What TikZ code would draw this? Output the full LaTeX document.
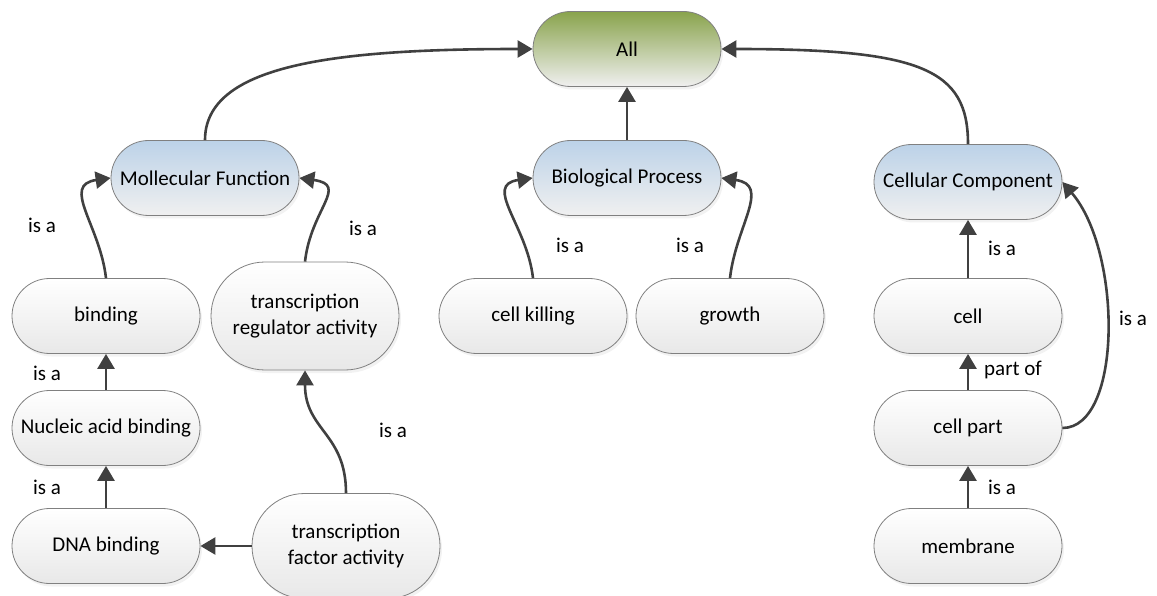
\documentclass[tikz,border=0pt]{standalone}
\usepackage{fontspec}
\setmainfont{Carlito}
\usepackage{tikz}
\usetikzlibrary{arrows.meta,shapes.misc,shadows,positioning}

\definecolor{edgegray}{RGB}{64,64,64}
\definecolor{rimgray}{RGB}{128,128,128}
\definecolor{olivetop}{RGB}{137,163,76}
\definecolor{bluetop}{RGB}{188,210,232}
\definecolor{palebottom}{RGB}{240,240,240}

\tikzset{
    box/.style={rounded rectangle, draw=rimgray, line width=0.8pt,
        minimum width=188pt, minimum height=75pt, inner sep=0pt,
        top color=white, bottom color=black!9, align=center,
        font=\fontsize{21}{25.5}\selectfont,
        drop shadow={shadow xshift=2pt, shadow yshift=-3pt, fill=black!10}},
    rootbox/.style={box, top color=olivetop, bottom color=palebottom},
    catbox/.style={box, top color=bluetop, bottom color=palebottom},
    link/.style={draw=edgegray, line width=2.6pt,
        -{Triangle[length=15pt,width=17pt]}},
    lbl/.style={font=\fontsize{21}{25}\selectfont, inner sep=1pt}
}

\begin{document}
\begin{tikzpicture}[x=1pt,y=1pt]
    \useasboundingbox (0,0) rectangle (1157,-596);

    % top of the tree
    \node[rootbox] (all) at (627,-49) {All};
    \node[catbox] (mf) at (205,-178) {Mollecular Function};
    \node[catbox] (bp) at (627,-178) {Biological Process};
    \node[catbox] (cc) at (968,-182) {Cellular Component};

    % molecular function branch
    \node[box] (bind) at (106,-316) {binding};
    \node[box, minimum height=108pt] (treg) at (305,-316) {transcription\\regulator activity};
    \node[box] (nab) at (106,-428) {Nucleic acid binding};
    \node[box] (dna) at (106,-546) {DNA binding};
    \node[box, minimum height=105pt] (tfa) at (346,-546) {transcription\\factor activity};

    % biological process branch
    \node[box] (kill) at (533,-316) {cell killing};
    \node[box] (grow) at (730,-316) {growth};

    % cellular component branch
    \node[box] (cell) at (968,-316) {cell};
    \node[box] (cpart) at (968,-428) {cell part};
    \node[box] (mem) at (968,-546) {membrane};

    % links
    \draw[link] (mf.north) .. controls +(0,75) and +(-200,0) .. (all.west);
    \draw[link] (bp.north) -- (all.south);
    \draw[link] (cc.north) .. controls +(0,75) and +(200,0) .. (all.east);

    \draw[link] (bind.north) .. controls +(-6,53) and +(-50,-7) .. (mf.west);
    \draw[link] (treg.north) .. controls +(6,53) and +(50,-7) .. (mf.east);
    \draw[link] (nab.north) -- (bind.south);
    \draw[link] (dna.north) -- (nab.south);
    \draw[link] (tfa.north) .. controls +(0,60) and +(0,-60) .. (treg.south);
    \draw[link] (tfa.west) -- (dna.east);

    \draw[link] (kill.north) .. controls +(-6,53) and +(-50,-7) .. (bp.west);
    \draw[link] (grow.north) .. controls +(6,53) and +(50,-7) .. (bp.east);

    \draw[link] (cell.north) -- (cc.south);
    \draw[link] (cpart.north) -- (cell.south);
    \draw[link] (mem.north) -- (cpart.south);
    \draw[link] (cpart.east) .. controls +(60,0) and +(60,-70) .. (cc.east);

    % relation labels
    \node[lbl] (l-bind) at (42,-225) {is a};
    \node[lbl] (l-treg) at (363,-228) {is a};
    \node[lbl] (l-nab) at (47,-373) {is a};
    \node[lbl] (l-dna) at (47,-487) {is a};
    \node[lbl] (l-tfa) at (393,-430) {is a};
    \node[lbl] (l-kill) at (570,-245) {is a};
    \node[lbl] (l-grow) at (690,-245) {is a};
    \node[lbl] (l-cell) at (1002,-248) {is a};
    \node[lbl] (l-cpart) at (1013,-370) {part of};
    \node[lbl] (l-mem) at (1002,-487) {is a};
    \node[lbl] (l-loop) at (1133,-318) {is a};
\end{tikzpicture}
\end{document}
